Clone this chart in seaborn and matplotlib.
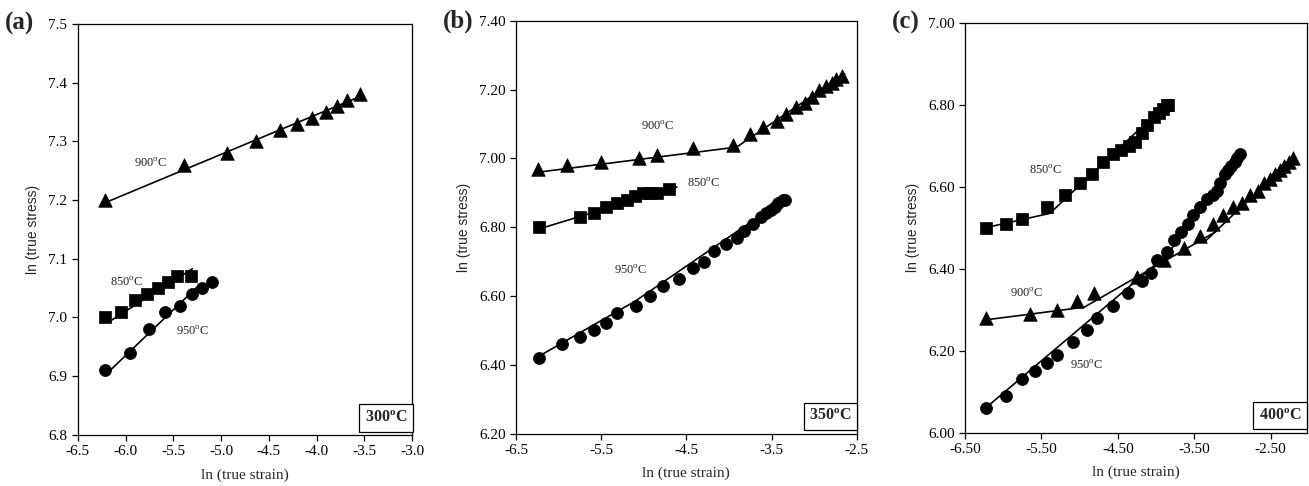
import matplotlib
matplotlib.use("Agg")
import matplotlib.pyplot as plt
import seaborn as sns
import pandas as pd

# ---- panel (a): 300 C ----
a_900_x = [-6.22, -5.39, -4.94, -4.63, -4.38, -4.20, -4.05, -3.90, -3.79, -3.68, -3.55]
a_900_y = [7.20, 7.26, 7.28, 7.30, 7.32, 7.33, 7.34, 7.35, 7.36, 7.37, 7.38]
a_850_x = [-6.21, -6.05, -5.90, -5.77, -5.66, -5.56, -5.46, -5.31]
a_850_y = [7.00, 7.01, 7.03, 7.04, 7.05, 7.06, 7.07, 7.07]
a_950_x = [-6.21, -5.95, -5.75, -5.59, -5.43, -5.30, -5.20, -5.09]
a_950_y = [6.91, 6.94, 6.98, 7.01, 7.02, 7.04, 7.05, 7.06]
# fitted trend lines (vertices)
a_900_fit_x = [-6.22, -3.52]
a_900_fit_y = [7.195, 7.378]
a_850_fit_x = [-6.17, -5.30]
a_850_fit_y = [6.993, 7.083]
a_950_fit_x = [-6.18, -5.25]
a_950_fit_y = [6.907, 7.052]

# ---- panel (b): 350 C ----
b_900_x = [-6.24, -5.90, -5.50, -5.06, -4.85, -4.42, -3.95, -3.75, -3.60, -3.44, -3.33,
           -3.21, -3.11, -3.02, -2.94, -2.86, -2.79, -2.74, -2.67]
b_900_y = [6.97, 6.98, 6.99, 7.00, 7.01, 7.03, 7.04, 7.07, 7.09, 7.11, 7.13,
           7.15, 7.16, 7.18, 7.20, 7.21, 7.22, 7.23, 7.24]
b_850_x = [-6.23, -5.75, -5.59, -5.44, -5.32, -5.20, -5.10, -5.01, -4.93, -4.84, -4.70]
b_850_y = [6.80, 6.83, 6.84, 6.86, 6.87, 6.88, 6.89, 6.90, 6.90, 6.90, 6.91]
b_950_x = [-6.23, -5.96, -5.75, -5.59, -5.44, -5.31, -5.09, -4.93, -4.77, -4.59, -4.42,
           -4.29, -4.18, -4.04, -3.91, -3.82, -3.72, -3.62, -3.56, -3.51, -3.46, -3.42,
           -3.37, -3.34]
b_950_y = [6.42, 6.46, 6.48, 6.50, 6.52, 6.55, 6.57, 6.60, 6.63, 6.65, 6.68,
           6.70, 6.73, 6.75, 6.77, 6.79, 6.81, 6.83, 6.84, 6.85, 6.86, 6.87,
           6.88, 6.88]
b_900_fit_x = [-6.24, -3.91, -2.64]
b_900_fit_y = [6.960, 7.033, 7.246]
b_850_fit_x = [-6.23, -4.61]
b_850_fit_y = [6.795, 6.917]
b_950_fit_x = [-6.23, -5.10, -3.33]
b_950_fit_y = [6.425, 6.585, 6.885]

# ---- panel (c): 400 C ----
c_850_x = [-6.23, -5.96, -5.75, -5.43, -5.19, -4.99, -4.84, -4.70, -4.57, -4.46, -4.36,
           -4.27, -4.19, -4.12, -4.03, -3.96, -3.91, -3.86, -3.85]
c_850_y = [6.50, 6.51, 6.52, 6.55, 6.58, 6.61, 6.63, 6.66, 6.68, 6.69, 6.70,
           6.71, 6.73, 6.75, 6.77, 6.78, 6.79, 6.80, 6.80]
c_900_x = [-6.23, -5.65, -5.29, -5.03, -4.81, -4.25, -3.90, -3.63, -3.43, -3.25, -3.12,
           -2.99, -2.88, -2.77, -2.67, -2.59, -2.51, -2.44, -2.38, -2.32, -2.26, -2.21]
c_900_y = [6.28, 6.29, 6.30, 6.32, 6.34, 6.38, 6.42, 6.45, 6.48, 6.51, 6.53,
           6.55, 6.56, 6.58, 6.59, 6.61, 6.62, 6.63, 6.64, 6.65, 6.66, 6.67]
c_950_x = [-6.23, -5.96, -5.76, -5.58, -5.43, -5.29, -5.09, -4.91, -4.77, -4.57, -4.37,
           -4.19, -4.07, -3.99, -3.86, -3.76, -3.67, -3.58, -3.52, -3.42, -3.33, -3.25,
           -3.20, -3.16, -3.10, -3.06, -3.02, -2.97, -2.94, -2.90]
c_950_y = [6.06, 6.09, 6.13, 6.15, 6.17, 6.19, 6.22, 6.25, 6.28, 6.31, 6.34,
           6.37, 6.39, 6.42, 6.44, 6.47, 6.49, 6.51, 6.53, 6.55, 6.57, 6.58,
           6.59, 6.61, 6.63, 6.64, 6.65, 6.66, 6.67, 6.68]
c_850_fit_x = [-6.23, -5.39, -3.85]
c_850_fit_y = [6.500, 6.535, 6.805]
c_900_fit_x = [-6.23, -4.94, -3.22, -3.35, -2.20]
c_900_fit_y = [6.275, 6.306, 6.490, 6.468, 6.672]
c_900_fit_seg = [0, 0, 0, 1, 1]
c_950_fit_x = [-6.23, -3.85, -2.90]
c_950_fit_y = [6.060, 6.435, 6.680]

sns.set_style("ticks")
plt.rcParams["font.family"] = ["Liberation Serif", "DejaVu Serif"]
plt.rcParams["mathtext.fontset"] = "custom"
plt.rcParams["mathtext.rm"] = "Liberation Serif"
plt.rcParams["mathtext.bf"] = "Liberation Serif:bold"

fig = plt.figure(figsize=(13.09, 4.86), dpi=100)
axes = [
    fig.add_axes([0.0594, 0.105, 0.2554, 0.846]),
    fig.add_axes([0.3942, 0.108, 0.2603, 0.849]),
    fig.add_axes([0.7372, 0.110, 0.2610, 0.843]),
]


def deg(t):
    return t + r"$^{\mathrm{o}}$C"


def draw_series(ax, x, y, marker, size):
    sns.scatterplot(x=x, y=y, ax=ax, marker=marker, s=size, color="black",
                    edgecolor="black", linewidth=0.5, zorder=3)


def draw_fit(ax, x, y, seg=None):
    df = pd.DataFrame({"x": x, "y": y, "seg": seg if seg is not None else [0] * len(x)})
    sns.lineplot(data=df, x="x", y="y", units="seg", estimator=None, sort=False,
                 color="black", linewidth=1.2, ax=ax, zorder=2)


# panel a
ax = axes[0]
draw_fit(ax, a_900_fit_x, a_900_fit_y)
draw_fit(ax, a_850_fit_x, a_850_fit_y)
draw_fit(ax, a_950_fit_x, a_950_fit_y)
draw_series(ax, a_900_x, a_900_y, "^", 95)
draw_series(ax, a_850_x, a_850_y, "s", 68)
draw_series(ax, a_950_x, a_950_y, "o", 75)
ax.set_xlim(-6.5, -3.0)
ax.set_ylim(6.8, 7.5)
ax.set_xticks([-6.5, -6.0, -5.5, -5.0, -4.5, -4.0, -3.5, -3.0])
ax.set_yticks([6.8, 6.9, 7.0, 7.1, 7.2, 7.3, 7.4, 7.5])
ax.set_xticklabels([f"{v:.1f}" for v in ax.get_xticks()])
ax.set_yticklabels([f"{v:.1f}" for v in ax.get_yticks()])
ax.text(-5.74, 7.263, deg("900"), fontsize=9, ha="center", va="center")
ax.text(-5.99, 7.06, deg("850"), fontsize=9, ha="center", va="center")
ax.text(-5.30, 6.976, deg("950"), fontsize=9, ha="center", va="center")

# panel b
ax = axes[1]
draw_fit(ax, b_900_fit_x, b_900_fit_y)
draw_fit(ax, b_850_fit_x, b_850_fit_y)
draw_fit(ax, b_950_fit_x, b_950_fit_y)
draw_series(ax, b_900_x, b_900_y, "^", 95)
draw_series(ax, b_850_x, b_850_y, "s", 68)
draw_series(ax, b_950_x, b_950_y, "o", 75)
ax.set_xlim(-6.5, -2.5)
ax.set_ylim(6.2, 7.4)
ax.set_xticks([-6.5, -5.5, -4.5, -3.5, -2.5])
ax.set_yticks([6.2, 6.4, 6.6, 6.8, 7.0, 7.2, 7.4])
ax.set_xticklabels([f"{v:.1f}" for v in ax.get_xticks()])
ax.set_yticklabels([f"{v:.2f}" for v in ax.get_yticks()])
ax.text(-4.84, 7.093, deg("900"), fontsize=9, ha="center", va="center")
ax.text(-4.30, 6.926, deg("850"), fontsize=9, ha="center", va="center")
ax.text(-5.15, 6.673, deg("950"), fontsize=9, ha="center", va="center")

# panel c
ax = axes[2]
draw_fit(ax, c_850_fit_x, c_850_fit_y)
draw_fit(ax, c_900_fit_x, c_900_fit_y, c_900_fit_seg)
draw_fit(ax, c_950_fit_x, c_950_fit_y)
draw_series(ax, c_900_x, c_900_y, "^", 95)
draw_series(ax, c_850_x, c_850_y, "s", 68)
draw_series(ax, c_950_x, c_950_y, "o", 75)
ax.set_xlim(-6.5, -2.03)
ax.set_ylim(6.0, 7.0)
ax.set_xticks([-6.5, -5.5, -4.5, -3.5, -2.5])
ax.set_yticks([6.0, 6.2, 6.4, 6.6, 6.8, 7.0])
ax.set_xticklabels([f"{v:.2f}" for v in ax.get_xticks()])
ax.set_yticklabels([f"{v:.2f}" for v in ax.get_yticks()])
ax.text(-5.45, 6.64, deg("850"), fontsize=9, ha="center", va="center")
ax.text(-5.69, 6.34, deg("900"), fontsize=9, ha="center", va="center")
ax.text(-4.91, 6.163, deg("950"), fontsize=9, ha="center", va="center")

box_labels = ["300", "350", "400"]
for ax, lab, letter in zip(axes, box_labels, ["(a)", "(b)", "(c)"]):
    for side in ["top", "right", "left", "bottom"]:
        ax.spines[side].set_visible(True)
        ax.spines[side].set_color("black")
        ax.spines[side].set_linewidth(0.9)
    ax.tick_params(direction="out", length=4, width=0.9, labelsize=11, colors="black")
    ax.set_xlabel("ln (true strain)", fontsize=11, labelpad=7)
    ax.set_ylabel("ln (true stress)", fontsize=10, labelpad=6,
                  family=["Liberation Sans", "DejaVu Sans"])
    ax.text(0.985, 0.022, r"$\mathbf{" + lab + r"^{o}C}$", transform=ax.transAxes,
            ha="right", va="bottom", fontsize=11.5,
            bbox=dict(boxstyle="square,pad=0.35", facecolor="white",
                      edgecolor="black", linewidth=0.9))
    pos = ax.get_position()
    fig.text(pos.x0 - 0.056, pos.y1, letter, fontsize=18, fontweight="bold",
             ha="left", va="center")

fig.savefig("out.png", dpi=100)
